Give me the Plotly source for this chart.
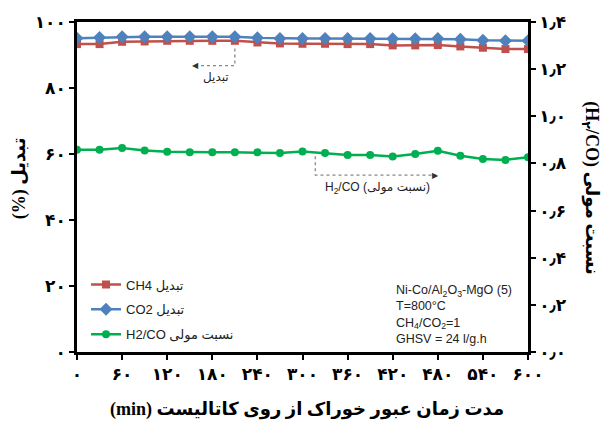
import plotly.graph_objects as go

time_min = [0, 30, 60, 90, 120, 150, 180, 210, 240, 270, 300, 330, 360, 390, 420, 450, 480, 510, 540, 570, 600]
ch4_conv = [93.3, 93.3, 94.0, 94.1, 94.3, 94.3, 94.3, 94.3, 93.8, 93.5, 93.4, 93.4, 93.3, 93.3, 92.9, 92.9, 93.0, 92.6, 92.2, 91.8, 91.8]
co2_conv = [95.1, 95.3, 95.5, 95.5, 95.5, 95.5, 95.5, 95.5, 95.2, 95.0, 95.0, 95.0, 95.0, 95.0, 94.9, 94.9, 95.0, 94.8, 94.5, 94.3, 94.3]
h2co_ratio = [0.858, 0.858, 0.865, 0.855, 0.850, 0.847, 0.847, 0.847, 0.847, 0.844, 0.851, 0.844, 0.836, 0.836, 0.829, 0.840, 0.854, 0.833, 0.819, 0.815, 0.826]

x_tickvals = [0, 60, 120, 180, 240, 300, 360, 420, 480, 540, 600]
x_ticktext = ["۰", "۶۰", "۱۲۰", "۱۸۰", "۲۴۰", "۳۰۰", "۳۶۰", "۴۲۰", "۴۸۰", "۵۴۰", "۶۰۰"]
y_tickvals = [0, 20, 40, 60, 80, 100]
y_ticktext = ["۰", "۲۰", "۴۰", "۶۰", "۸۰", "۱۰۰"]
y2_tickvals = [0, 0.2, 0.4, 0.6, 0.8, 1.0, 1.2, 1.4]
y2_ticktext = ["۰٫۰", "۰٫۲", "۰٫۴", "۰٫۶", "۰٫۸", "۱٫۰", "۱٫۲", "۱٫۴"]

RED = "#C0504D"
BLUE = "#4F81BD"
GREEN = "#00B050"
FA = "DejaVu Sans"

fig = go.Figure()
fig.add_trace(go.Scatter(x=time_min, y=ch4_conv, name="CH4 تبدیل", mode="lines+markers",
                         line=dict(color=RED, width=2.5), marker=dict(symbol="square", size=8, color=RED),
                         legendgroup="a"))
fig.add_trace(go.Scatter(x=time_min, y=co2_conv, name="CO2 تبدیل", mode="lines+markers",
                         line=dict(color=BLUE, width=2.5), marker=dict(symbol="diamond", size=10, color=BLUE),
                         legendgroup="b"))
fig.add_trace(go.Scatter(x=time_min, y=h2co_ratio, name="H2/CO نسبت مولی", mode="lines+markers",
                         line=dict(color=GREEN, width=2.5), marker=dict(symbol="circle", size=8, color=GREEN),
                         yaxis="y2", legendgroup="c"))

tickfont = dict(family=FA, size=17, color="black", weight="bold")
fig.update_layout(
    width=601, height=428,
    margin=dict(l=77, r=73, t=18, b=76),
    paper_bgcolor="white", plot_bgcolor="white",
    showlegend=True,
    legend=dict(x=0.02, y=0.25, xanchor="left", yanchor="top", bgcolor="rgba(0,0,0,0)",
                font=dict(family="Liberation Sans, DejaVu Sans", size=13, color="#222"),
                traceorder="grouped", tracegroupgap=5, itemwidth=30),
    xaxis=dict(range=[0, 600], tickvals=x_tickvals, ticktext=x_ticktext, tickfont=tickfont,
               showgrid=False, zeroline=False, showline=True, linecolor="black", linewidth=2.5,
               mirror=True, ticks="outside", ticklen=5, tickwidth=1.5, tickcolor="black"),
    yaxis=dict(range=[0, 100], tickvals=y_tickvals, ticktext=y_ticktext, tickfont=tickfont,
               showgrid=False, zeroline=False, showline=True, linecolor="black", linewidth=2.5,
               ticks="outside", ticklen=5, tickwidth=1.5, tickcolor="black"),
    yaxis2=dict(range=[0, 1.4], tickvals=y2_tickvals, ticktext=y2_ticktext, tickfont=tickfont,
                overlaying="y", side="right", showgrid=False, zeroline=False, showline=True,
                linecolor="black", linewidth=2.5, ticks="outside", ticklen=5, tickwidth=1.5,
                tickcolor="black"),
)

annots = []
annots.append(dict(text="(min) مدت زمان عبور خوراک از روی کاتالیست", xref="paper", yref="paper",
                   x=0.51, y=-0.175, xanchor="center", yanchor="middle", showarrow=False,
                   font=dict(family="Liberation Serif, DejaVu Sans", size=18, color="black", weight="bold")))
annots.append(dict(text="(%) تبدیل", xref="paper", yref="paper", x=-0.128, y=0.527,
                   xanchor="center", yanchor="middle", textangle=-90, showarrow=False,
                   font=dict(family="Liberation Serif, DejaVu Sans", size=18, color="black", weight="bold")))
annots.append(dict(text="(H<sub>۲</sub>/CO) نسبت مولی", xref="paper", yref="paper", x=1.137, y=0.497,
                   xanchor="center", yanchor="middle", textangle=90, showarrow=False,
                   font=dict(family="Liberation Serif, DejaVu Sans", size=18, color="black", weight="bold")))
annots.append(dict(text="Ni-Co/Al<sub>2</sub>O<sub>3</sub>-MgO (5)<br>T=800°C<br>CH<sub>4</sub>/CO<sub>2</sub>=1<br>GHSV = 24 l/g.h",
                   xref="paper", yref="paper", x=0.703, y=0.215, xanchor="left", yanchor="top",
                   align="left", showarrow=False,
                   font=dict(family="Liberation Sans", size=12.5, color="#222")))
# callout labels
annots.append(dict(text="تبدیل", x=185, y=86.2, xref="x", yref="y", yanchor="top", showarrow=False,
                   font=dict(family=FA, size=12, color="#222")))
annots.append(dict(text="H<sub>2</sub>/CO (نسبت مولی)", x=400, y=52.8, xref="x", yref="y", yanchor="top",
                   showarrow=False, font=dict(family="Liberation Sans, DejaVu Sans", size=12, color="#222")))
# arrowheads
annots.append(dict(text="◀", x=150, y=86.8, xref="x", yref="y", xanchor="left", yanchor="middle",
                   showarrow=False, font=dict(family=FA, size=8, color="#333")))
annots.append(dict(text="▶", x=484, y=53.6, xref="x", yref="y", xanchor="right", yanchor="middle",
                   showarrow=False, font=dict(family=FA, size=8, color="#333")))
fig.update_layout(annotations=annots)

dash = dict(color="#888", width=1.3, dash="dot")
fig.add_shape(type="path", path="M 210 92 L 210 86.8 L 156 86.8", xref="x", yref="y", line=dash)
fig.add_shape(type="path", path="M 317 59.3 L 317 53.6 L 478 53.6", xref="x", yref="y", line=dash)

fig.write_html("out.html", config={"displayModeBar": False},
               post_script="document.body.style.margin='0';document.body.style.overflow='hidden';")
